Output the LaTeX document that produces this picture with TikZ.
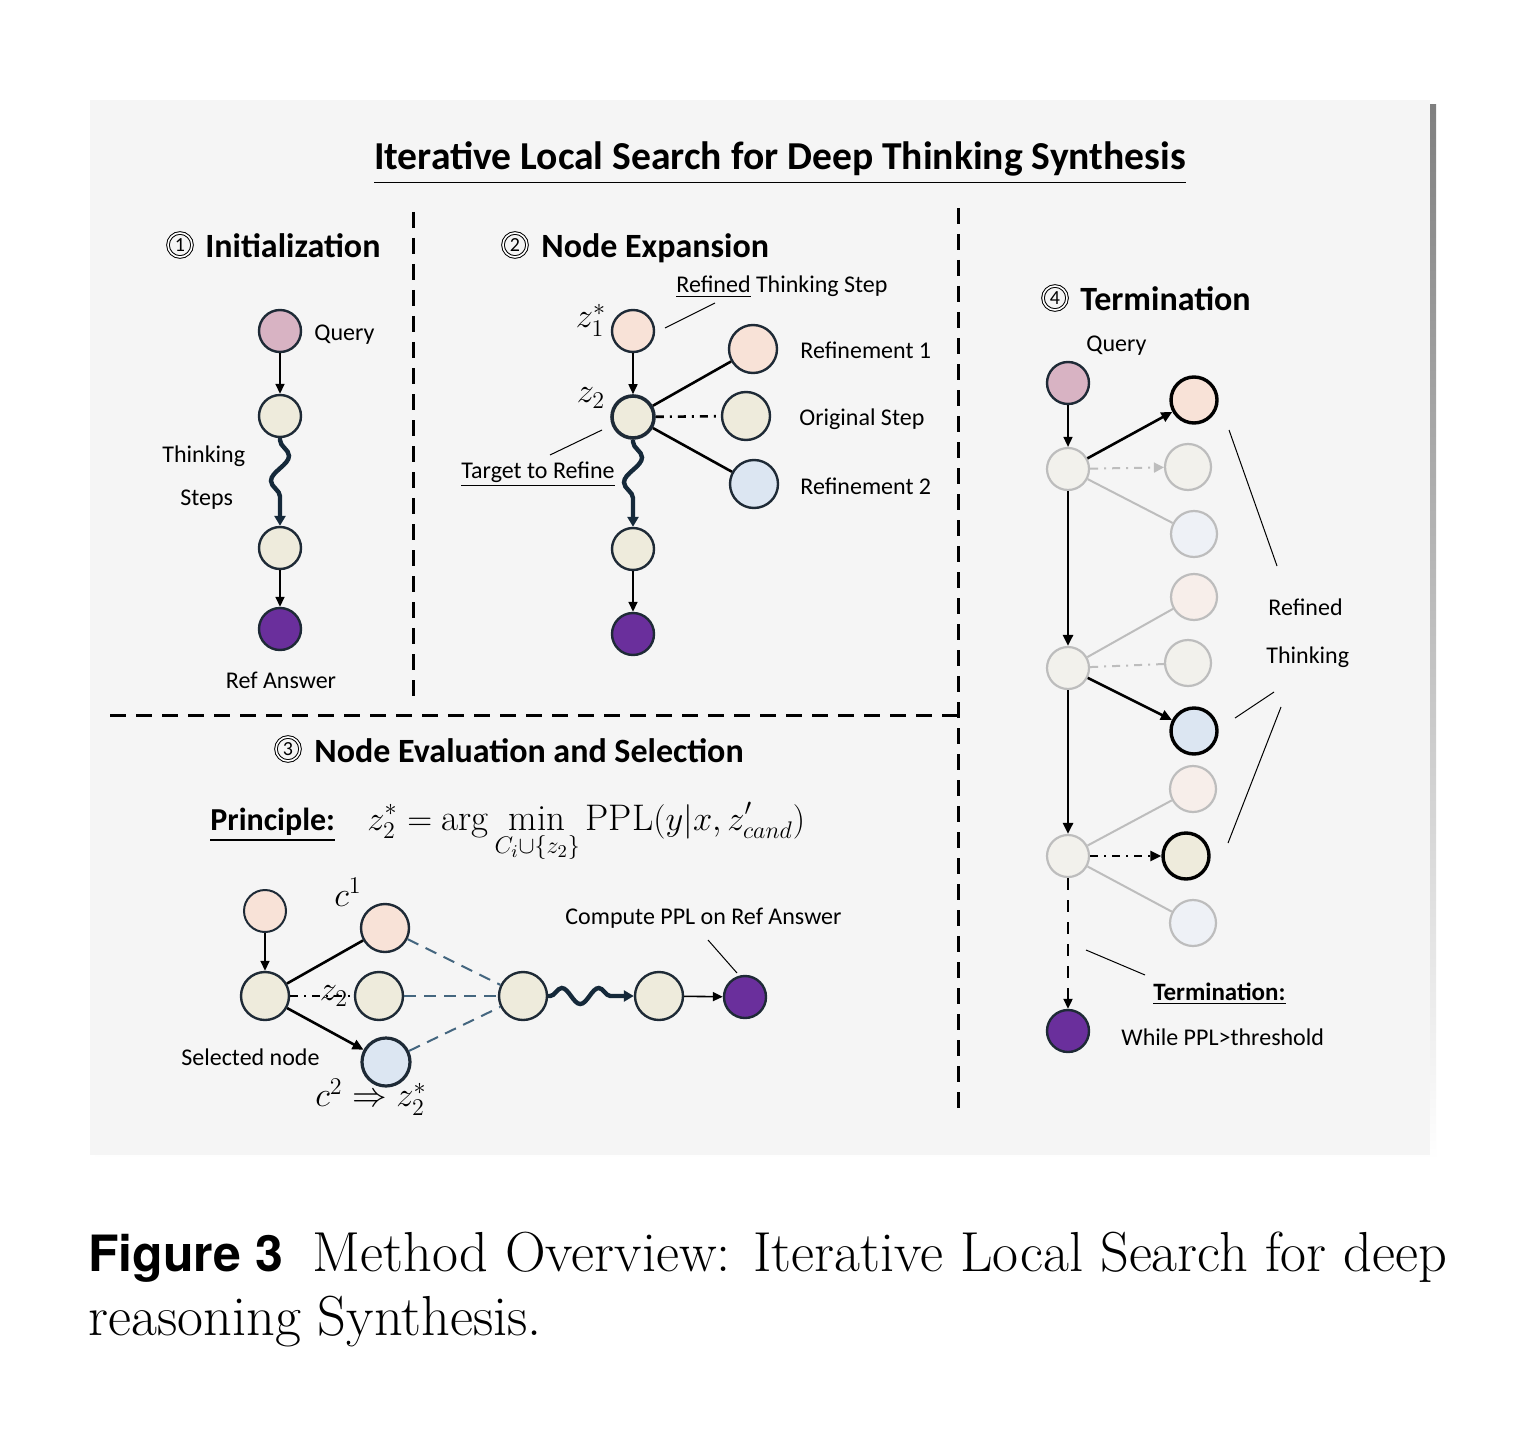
\documentclass[tikz,border=0pt]{standalone}
\usepackage{fontspec}
\usepackage{amsmath}
\usetikzlibrary{arrows.meta,decorations.pathmorphing,calc}
\newfontfamily\labfont{Carlito}
\newfontfamily\figfont{TeX Gyre Heros}
\definecolor{panel}{HTML}{F5F5F5}
\definecolor{shade}{HTML}{CDCDCD}
\definecolor{navy}{HTML}{1E2A36}
\definecolor{qpink}{HTML}{D8B3C3}
\definecolor{peach}{HTML}{F8E2D7}
\definecolor{cream}{HTML}{EEEBDC}
\definecolor{lblue}{HTML}{DCE6F2}
\definecolor{purp}{HTML}{6A2F9C}
\definecolor{wavec}{HTML}{15293A}
\definecolor{fgray}{HTML}{F2F1EC}
\definecolor{fpeach}{HTML}{F7EEEA}
\definecolor{fblue}{HTML}{EEF1F6}
\definecolor{gborder}{HTML}{BDBDBD}
\definecolor{dblue}{HTML}{44667F}
\begin{document}
\begin{tikzpicture}[x=0.5pt,y=-0.5pt,
  nd/.style={circle, draw=navy, line width=1.2pt, minimum size=21pt, inner sep=0pt},
  ndl/.style={nd, minimum size=24pt},
  fnd/.style={circle, draw=gborder, line width=1.1pt, minimum size=23pt, inner sep=0pt},
  bnd/.style={circle, draw=black, line width=1.7pt, minimum size=23pt, inner sep=0pt},
  arr/.style={line width=0.8pt, -{Triangle[length=5pt,width=4.5pt]}},
  tarr/.style={line width=1.3pt, -{Triangle[length=5.5pt,width=5pt]}},
  thk/.style={line width=1.3pt},
  dashdot/.style={dash pattern=on 4pt off 3pt on 1pt off 3pt},
  wavy/.style={decorate, decoration={snake, amplitude=4.5pt, segment length=25pt, pre length=1pt, post length=5pt}, line width=2.2pt, draw=wavec, -{Triangle[length=5pt,width=5.5pt]}},
  lab/.style={font=\labfont\fontsize{12}{14}\selectfont, inner sep=0pt},
  hd/.style={font=\labfont\bfseries\fontsize{17}{20}\selectfont, inner sep=0pt},
  mth/.style={font=\fontsize{17}{19}\selectfont, inner sep=0pt},
  cnum/.style={circle, draw, double, double distance=0.8pt, line width=0.5pt, inner sep=0pt, minimum size=12pt, font=\labfont\fontsize{10}{10}\selectfont},
  call/.style={line width=0.5pt},
  sep/.style={line width=1.5pt, dash pattern=on 8pt off 5pt}
]
\useasboundingbox (0,0) rectangle (1540,1428);
\fill[white] (0,0) rectangle (1540,1428);
\fill[shade] (95,105) rectangle (1436,1161);
\fill[panel] (90,100) rectangle (1430,1155);

% title
\node[font=\labfont\bfseries\fontsize{19.8}{22}\selectfont, inner sep=0pt, anchor=base] (title) at (780,170) {\underline{Iterative Local Search for Deep Thinking Synthesis}};

% separators
\draw[sep] (413,212) -- (413,705);
\draw[sep] (110,715) -- (958,715);
\draw[sep] (958,208) -- (958,1115);

% ---------- 1 Initialization
\node[cnum] (n1) at (180,245) {1};
\node[hd, anchor=base west] (h1) at (205,258) {Initialization};
\node[nd, fill=qpink] (q1) at (280,331) {};
\node[nd, fill=cream] (s1a) at (280,416) {};
\node[nd, fill=cream] (s1b) at (280,548) {};
\node[nd, fill=purp] (a1) at (280,629) {};
\draw[arr] (q1) -- (s1a);
\draw[wavy] (s1a) -- (s1b);
\draw[arr] (s1b) -- (a1);
\node[lab, anchor=base west] (lq1) at (314,341) {Query};
\node[lab, anchor=base west] (lt1) at (162,462) {Thinking};
\node[lab, anchor=base west] (ls1) at (180,505) {Steps};
\node[lab, anchor=base] (lr1) at (281,688) {Ref Answer};

% ---------- 2 Node Expansion
\node[cnum] (n2) at (515,245) {2};
\node[hd, anchor=base west] (h2) at (541,258) {Node Expansion};
\node[nd, fill=peach] (z1) at (633,331) {};
\node[nd, line width=1.8pt, fill=cream] (z2) at (633,417) {};
\node[ndl, fill=peach] (r1) at (753,349) {};
\node[ndl, fill=cream] (os) at (746,416) {};
\node[ndl, fill=lblue] (r2) at (754,484) {};
\node[nd, fill=cream] (s2b) at (633,549) {};
\node[nd, fill=purp] (a2) at (633,634) {};
\draw[arr] (z1) -- (z2);
\draw[thk] (z2) -- (r1);
\draw[thk, dashdot] (z2) -- (os);
\draw[thk] (z2) -- (r2);
\draw[wavy] (z2) -- (s2b);
\draw[arr] (s2b) -- (a2);
\node[mth] (lz1) at (591,320) {$z_1^*$};
\node[mth] (lz2) at (591,398) {$z_2$};
\node[lab, anchor=base west] (lrts) at (676,293) {\underline{Refined} Thinking Step};
\node[lab, anchor=base west] (lr1t) at (800,358) {Refinement 1};
\node[lab, anchor=base west] (lost) at (799,425) {Original Step};
\node[lab, anchor=base west] (lr2t) at (800,494) {Refinement 2};
\node[lab, anchor=base west] (ltr) at (461,478) {\underline{Target to Refine}};
\coordinate (c2a) at (665,328); \coordinate (c2b) at (715,303);
\draw[call] (c2a) -- (c2b);
\coordinate (c2c) at (550,455); \coordinate (c2d) at (602,430);
\draw[call] (c2c) -- (c2d);

% ---------- 3 Node Evaluation and Selection
\node[cnum] (n3) at (288,749) {3};
\node[hd, anchor=base west] (h3) at (314,762) {Node Evaluation and Selection};
\node[font=\labfont\bfseries\fontsize{16}{18}\selectfont, inner sep=0pt, anchor=base west] (pr) at (210,830) {\underline{Principle:}};
\node[font=\fontsize{18.5}{21}\selectfont, inner sep=0pt, anchor=base west] (form) at (367,830) {$\displaystyle z_2^* = \arg\min_{C_i\cup\{z_2\}}\mathrm{PPL}(y|x,z'_{cand})$};
\node[nd, line width=1pt, fill=peach] (e0) at (265,911) {};
\node[ndl, fill=cream] (es) at (265,996) {};
\node[ndl, fill=peach] (ec1) at (385,928) {};
\node[ndl, fill=cream] (ez2) at (379,996) {};
\node[ndl, line width=1.6pt, fill=lblue] (ec2) at (386,1062) {};
\node[ndl, fill=cream] (em) at (523,996) {};
\node[ndl, fill=cream] (en) at (659,996) {};
\node[nd, fill=purp] (ea) at (745,997) {};
\draw[arr] (e0) -- (es);
\draw[thk] (es) -- (ec1);
\draw[line width=0.8pt, dashdot] (es) -- (ez2);
\draw[tarr] (es) -- (ec2);
\draw[dblue, line width=1pt, dash pattern=on 6pt off 4pt] (ec1) -- (em);
\draw[dblue, line width=1pt, dash pattern=on 6pt off 4pt] (ez2) -- (em);
\draw[dblue, line width=1pt, dash pattern=on 6pt off 4pt] (ec2) -- (em);
\draw[wavy, decoration={snake, amplitude=4pt, segment length=18.5pt, pre length=1pt, post length=5pt}] (em) -- (en);
\draw[arr] (en) -- (ea);
\node[mth] (lc1) at (348,892) {$c^1$};
\node[mth] (lez2) at (334,996) {$z_2$};
\node[mth] (lc2) at (371,1097) {$c^2 \Rightarrow z_2^*$};
\node[lab, anchor=base west] (lsel) at (181,1065) {Selected node};
\node[lab, anchor=base west] (lppl) at (565,924) {Compute PPL on Ref Answer};
\coordinate (c3a) at (708,940); \coordinate (c3b) at (737,973);
\draw[call] (c3a) -- (c3b);

% ---------- 4 Termination
\node[cnum] (n4) at (1055,298) {4};
\node[hd, anchor=base west] (h4) at (1080,311) {Termination};
\node[lab, anchor=base west] (lq4) at (1086,351) {Query};
\node[nd, fill=qpink] (tq) at (1068,383) {};
\node[fnd, minimum size=21pt, fill=fgray] (tA) at (1068,469) {};
\node[fnd, minimum size=21pt, fill=fgray] (tB) at (1068,668) {};
\node[fnd, minimum size=21pt, fill=fgray] (tC) at (1068,856) {};
\node[nd, fill=purp] (tP) at (1068,1031) {};
\node[bnd, fill=peach] (ta1) at (1194,400) {};
\node[fnd, fill=fgray] (ta2) at (1188,467) {};
\node[fnd, fill=fblue] (ta3) at (1194,534) {};
\node[fnd, fill=fpeach] (tb1) at (1194,597) {};
\node[fnd, fill=fgray] (tb2) at (1188,663) {};
\node[bnd, fill=lblue] (tb3) at (1194,731) {};
\node[fnd, fill=fpeach] (tc1) at (1193,789) {};
\node[bnd, fill=cream] (tc2) at (1186,856) {};
\node[fnd, fill=fblue] (tc3) at (1193,923) {};
\draw[arr] (tq) -- (tA);
\draw[tarr] (tA) -- (ta1);
\draw[gborder, line width=1pt, dashdot, -{Triangle[length=5pt,width=5pt]}] (tA) -- (ta2);
\draw[gborder, line width=1pt] (tA) -- (ta3);
\draw[tarr] (tA) -- (tB);
\draw[gborder, line width=1pt] (tB) -- (tb1);
\draw[gborder, line width=1pt, dashdot] (tB) -- (tb2);
\draw[tarr] (tB) -- (tb3);
\draw[tarr] (tB) -- (tC);
\draw[gborder, line width=1pt] (tC) -- (tc1);
\draw[tarr, dashdot] (tC) -- (tc2);
\draw[gborder, line width=1pt] (tC) -- (tc3);
\draw[line width=1pt, dash pattern=on 6pt off 5pt, -{Triangle[length=5pt,width=4.5pt]}] (tC) -- (tP);
\node[lab, anchor=base west] (lref) at (1268,615) {Refined};
\node[lab, anchor=base west] (lthk) at (1266,663) {Thinking};
\node[font=\labfont\bfseries\fontsize{12.5}{14}\selectfont, inner sep=0pt, anchor=base west] (lterm) at (1153,1000) {\underline{Termination:}};
\node[lab, anchor=base west] (lwhile) at (1121,1045) {While PPL>threshold};
\coordinate (c4a) at (1229,430); \coordinate (c4b) at (1277,566);
\draw[call] (c4a) -- (c4b);
\coordinate (c4c) at (1235,718); \coordinate (c4d) at (1274,692);
\draw[call] (c4c) -- (c4d);
\coordinate (c4e) at (1228,843); \coordinate (c4f) at (1281,707);
\draw[call] (c4e) -- (c4f);
\coordinate (c4g) at (1086,950); \coordinate (c4h) at (1145,975);
\draw[call] (c4g) -- (c4h);

% ---------- caption
\node[font=\figfont\bfseries\fontsize{25}{30}\selectfont, inner sep=0pt, anchor=base west] (fig) at (88,1271) {Figure 3};
\node[font=\fontsize{28.2}{32}\selectfont, inner sep=0pt, anchor=base west] (cap1) at (312,1271) {Method Overview: Iterative Local Search for deep};
\node[font=\fontsize{28.2}{32}\selectfont, inner sep=0pt, anchor=base west] (cap2) at (88,1335) {reasoning Synthesis.};
\end{tikzpicture}
\end{document}
